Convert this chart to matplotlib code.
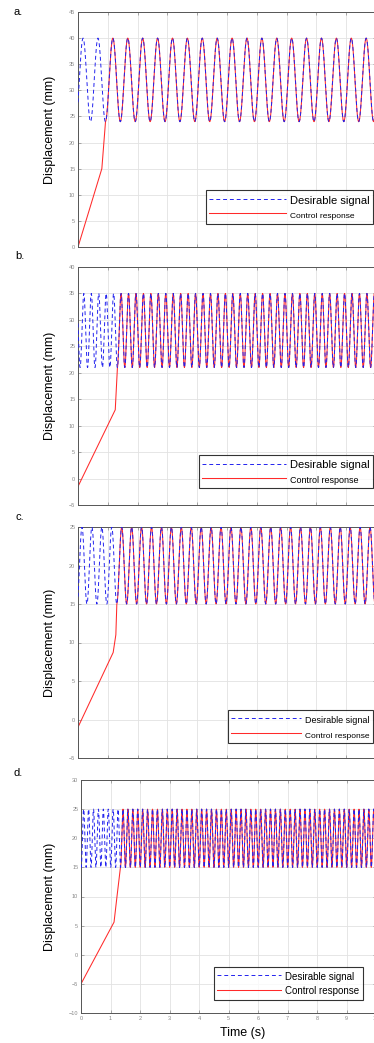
import numpy as np
import matplotlib
matplotlib.use("Agg")
import matplotlib.pyplot as plt

plt.rcParams['font.family'] = ['Liberation Sans', 'DejaVu Sans']

# panel letters and axis ranges
panel_tags = ['a.', 'b.', 'c.', 'd.']
y_limits = [(0, 45), (-5, 40), (-5, 25), (-10, 30)]

# desirable signal: oscillates between low and high at freq (Hz), a trough at t_trough
sig_low = [24, 21, 15, 15]
sig_high = [40, 35, 25, 25]
sig_freq = [2.0, 4.0, 3.0, 6.0]
sig_trough = [0.92, 1.32, 1.30, 1.34]

# control response: ramp breakpoints before it locks onto the signal
ctrl_t = [[0, 0.80, 0.92],
          [0, 1.25, 1.32],
          [0, 1.18, 1.27, 1.30],
          [0, 1.12, 1.22, 1.34]]
ctrl_y = [[0, 15, 24],
          [-1.5, 13, 21],
          [-1.0, 8.7, 11, 15],
          [-5, 5.6, 10, 15]]

x_ticks = list(range(0, 11))

# legend look per panel (font sizes of the two entries, anchor, handle length)
leg_fs = [(8, 6), (8, 6.5), (6.5, 6), (7, 7)]
leg_anchor = [(0.99, 0.10), (0.99, 0.07), (0.99, 0.065), (0.956, 0.056)]
leg_hl = [5.5, 6.0, 5.0, 4.6]

W, H = 374, 1043
fig = plt.figure(figsize=(W / 100, H / 100), dpi=100)

# axes boxes in pixels: left, top, bottom
boxes = [(78, 12, 247), (78, 267, 505), (78, 527, 758), (81, 780, 1013)]
right_px = 376
tag_pos = [(13, 12), (15, 256), (15, 517), (13, 773)]

t = np.linspace(0, 10, 6001)

for i in range(4):
    l, tp, bt = boxes[i]
    ax = fig.add_axes([l / W, 1 - bt / H, (right_px - l) / W, (bt - tp) / H])

    mid = (sig_low[i] + sig_high[i]) / 2
    amp = (sig_high[i] - sig_low[i]) / 2
    sig = mid - amp * np.cos(2 * np.pi * sig_freq[i] * (t - sig_trough[i]))

    join = ctrl_t[i][-1]
    after = t > join
    ct = np.concatenate([ctrl_t[i], t[after]])
    cy = np.concatenate([ctrl_y[i], sig[after]])

    ln_r, = ax.plot(ct, cy, color='#ff2a2a', lw=0.75, zorder=2)
    ln_b, = ax.plot(t, sig, color='#2222ee', lw=0.7, dashes=(4, 3), zorder=3)

    ax.set_xlim(0, 10)
    ax.set_ylim(*y_limits[i])
    lo, hi = y_limits[i]
    ax.set_yticks(np.arange(lo, hi + 1, 5))
    ax.set_xticks(x_ticks)
    ax.grid(True, color='#e2e2e2', lw=0.6)
    ax.set_axisbelow(True)
    ax.tick_params(direction='in', length=2, width=0.5, labelsize=4,
                   labelcolor='#888888', color='#888888', top=True, right=True, pad=2)
    if i < 3:
        ax.tick_params(labelbottom=False)
    for s in ax.spines.values():
        s.set_color('#555555')
        s.set_linewidth(0.7)

    leg = ax.legend([ln_b, ln_r], ['Desirable signal', 'Control response'],
                    loc='lower right', bbox_to_anchor=leg_anchor[i],
                    frameon=True, fancybox=False, edgecolor='black',
                    handlelength=leg_hl[i], handletextpad=0.3, borderpad=0.25,
                    labelspacing=0.2, borderaxespad=0)
    leg.get_frame().set_linewidth(0.8)
    for txt, fs in zip(leg.get_texts(), leg_fs[i]):
        txt.set_fontsize(fs)

    fig.text(tag_pos[i][0] / W, 1 - tag_pos[i][1] / H, panel_tags[i],
             fontsize=8, ha='left', va='center')
    fig.text(50 / W, 1 - (tp + bt) / 2 / H, 'Displacement (mm)',
             rotation=90, fontsize=9, ha='center', va='center')

fig.text(243 / W, 1 - 1033 / H, 'Time (s)', fontsize=9, ha='center', va='center')

fig.savefig('out.png', dpi=100)
